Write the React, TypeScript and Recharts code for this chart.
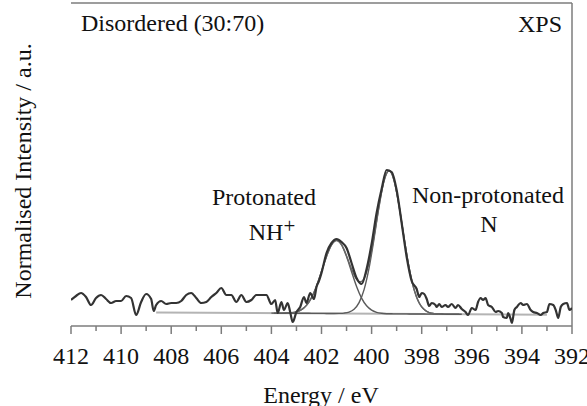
import React from "react";
import { LineChart, Line, XAxis, YAxis, ReferenceLine } from "recharts";

// x grid in eV, high binding energy on the left
const energyTicks = [412, 411, 410, 409, 408, 407, 406, 405, 404, 403, 402, 401, 400, 399, 398, 397, 396, 395, 394, 393, 392];

// measured N 1s spectrum (height above axis, a.u.)
const dataEnergy = [
  412.0, 411.8, 411.6, 411.4, 411.2, 411.0, 410.8, 410.6, 410.4, 410.2,
  410.0, 409.8, 409.6, 409.4, 409.2, 409.0, 408.8, 408.7, 408.6, 408.4,
  408.2, 408.0, 407.8, 407.6, 407.4, 407.2, 407.0, 406.8, 406.6, 406.4,
  406.2, 406.0, 405.8, 405.6, 405.4, 405.2, 405.0, 404.8, 404.6, 404.4,
  404.2, 404.0, 403.85, 403.75, 403.6, 403.5, 403.35, 403.25, 403.15, 403.0,
  402.85, 402.7, 402.6, 402.45, 402.3, 402.2, 402.1, 402.0, 401.8, 401.6,
  401.4, 401.2, 401.0, 400.8, 400.6, 400.4, 400.2, 400.0, 399.8, 399.6,
  399.4, 399.2, 399.0, 398.8, 398.6, 398.4, 398.2, 398.1, 398.0, 397.9,
  397.8, 397.7, 397.6, 397.45, 397.4, 397.3, 397.2, 397.05, 396.95, 396.8,
  396.65, 396.55, 396.4, 396.25, 396.15, 396.0, 395.85, 395.75, 395.65, 395.55,
  395.45, 395.35, 395.2, 395.05, 394.95, 394.8, 394.75, 394.6, 394.55, 394.45,
  394.4, 394.3, 394.2, 394.05, 393.95, 393.8, 393.65, 393.55, 393.4, 393.25,
  393.15, 393.0, 392.9, 392.75, 392.65, 392.55, 392.45, 392.35, 392.2, 392.1,
  392.0,
];
const dataCounts = [
  26, 30, 33, 29, 21, 28, 31, 27, 23, 25,
  25, 30, 28, 11, 24, 32, 27, 15, 21, 25,
  22, 23, 23, 25, 31, 33, 28, 23, 24, 29,
  33, 38, 31, 31, 24, 31, 24, 26, 31, 31,
  31, 22, 26, 13, 24, 16, 23, 14, 4, 14,
  19, 29, 23, 33, 27, 39, 45, 53, 73, 83,
  87, 84, 78, 63, 48, 42, 57, 82, 113, 137,
  156, 154, 136, 103, 69, 45, 37, 29, 33, 32,
  27, 20, 23, 21, 19, 22, 19, 21, 19, 22,
  18, 21, 17, 14, 11, 18, 16, 24, 28, 26,
  28, 21, 19, 14, 15, 13, 9, 8, 13, 7,
  3, 16, 19, 23, 21, 22, 16, 14, 13, 11,
  13, 14, 22, 21, 16, 8, 19, 22, 23, 16,
  18,
];

// Shirley-type background
const baseEnergy = [408.6, 393.0];
const baseCounts = [13.6, 11.2];

// protonated NH+ component (on background)
const nhEnergy = [
  404.0, 403.8, 403.6, 403.4, 403.2, 403.0, 402.8, 402.6, 402.4, 402.2,
  402.0, 401.8, 401.6, 401.4, 401.2, 401.0, 400.8, 400.6, 400.4, 400.2,
  400.0, 399.8, 399.6, 399.4, 399.2, 399.0, 398.8, 398.6, 398.4, 398.2,
  398.0, 397.8, 397.6, 397.4, 397.2, 397.0, 396.8, 396.6, 396.4,
];
const nhCounts = [
  12.9, 12.9, 12.9, 13.0, 13.3, 14.2, 16.3, 20.6, 28.2, 39.8,
  54.5, 69.6, 81.1, 85.5, 81.1, 69.4, 54.3, 39.6, 27.9, 20.2,
  15.9, 13.7, 12.7, 12.3, 12.2, 12.1, 12.1, 12.1, 12.0, 12.0,
  12.0, 11.9, 11.9, 11.9, 11.9, 11.8, 11.8, 11.8, 11.7,
];

// non-protonated N component (on background)
const nEnergy = [
  403.9, 403.7, 403.5, 403.3, 403.1, 402.9, 402.7, 402.5, 402.3, 402.1,
  401.9, 401.7, 401.5, 401.3, 401.1, 400.9, 400.7, 400.5, 400.3, 400.1,
  399.9, 399.7, 399.5, 399.3, 399.1, 398.9, 398.7, 398.5, 398.3, 398.1,
  397.9, 397.7, 397.5, 397.3, 397.1, 396.9, 396.7, 396.5,
];
const nCounts = [
  12.9, 12.8, 12.8, 12.8, 12.8, 12.7, 12.7, 12.7, 12.6, 12.6,
  12.6, 12.5, 12.5, 12.6, 12.9, 13.9, 16.8, 23.4, 36.4, 58.1,
  87.7, 119.8, 145.4, 155.2, 145.3, 119.7, 87.5, 57.9, 36.1, 23.0,
  16.4, 13.4, 12.3, 12.0, 11.9, 11.8, 11.8, 11.7,
];

// fit envelope
const envEnergy = [
  403.4, 403.3, 403.2, 403.1, 403.0, 402.9, 402.8, 402.7, 402.6, 402.5,
  402.4, 402.3, 402.2, 402.1, 402.0, 401.9, 401.8, 401.7, 401.6, 401.5,
  401.4, 401.3, 401.2, 401.1, 401.0, 400.9, 400.8, 400.7, 400.6, 400.5,
  400.4, 400.3, 400.2, 400.1, 400.0, 399.9, 399.8, 399.7, 399.6, 399.5,
  399.4, 399.3, 399.2, 399.1, 399.0, 398.9, 398.8, 398.7, 398.6, 398.5,
  398.4, 398.3, 398.2, 398.1, 398.0, 397.9, 397.8, 397.7, 397.6, 397.5,
  397.4, 397.3, 397.2,
];
const envCounts = [
  13.0, 13.1, 13.3, 13.6, 14.2, 15.0, 16.3, 18.1, 20.6, 24.0,
  28.3, 33.5, 39.8, 46.9, 54.5, 62.2, 69.6, 76.0, 81.1, 84.4,
  85.6, 84.5, 81.3, 76.4, 70.3, 63.5, 56.9, 51.1, 46.7, 44.3,
  44.5, 47.7, 54.0, 63.5, 75.7, 90.0, 105.3, 120.7, 134.5, 145.7,
  152.8, 155.3, 152.7, 145.3, 133.9, 119.7, 103.7, 87.5, 71.9, 57.9,
  45.8, 36.1, 28.6, 23.0, 19.1, 16.4, 14.5, 13.4, 12.8, 12.3,
  12.1, 12.0, 11.9,
];

const zip = (es: number[], hs: number[]) => es.map((e, i) => ({ e, h: hs[i] }));

const FRAME = "#7c7c7c";
const SERIF = "'Liberation Serif', 'Times New Roman', serif";

function EnergyTick({ x, y, payload }: any) {
  const v = payload.value as number;
  const major = v % 2 === 0;
  return (
    <g>
      <line x1={x} x2={x} y1={y} y2={y + (major ? 8 : 5)} stroke={FRAME} strokeWidth={1.5} />
      {major && (
        <text
          x={x}
          y={y + 38}
          textAnchor="middle"
          fontFamily="Liberation Serif"
          fontSize={24}
          style={{ fontFamily: SERIF, fontSize: 24 }}
          fill="#111"
        >
          {v}
        </text>
      )}
    </g>
  );
}

const textStyle: React.CSSProperties = {
  position: "absolute",
  fontFamily: SERIF,
  fontSize: 24,
  lineHeight: "24px",
  color: "#111",
  whiteSpace: "nowrap",
};

export default function App() {
  return (
    <div style={{ position: "absolute", left: 0, top: 0, width: 587, height: 406, background: "#fff" }}>
      <LineChart width={587} height={406} margin={{ top: 3, right: 15, left: 71, bottom: 20 }}>
        <XAxis
          xAxisId="b"
          dataKey="e"
          type="number"
          domain={[392, 412]}
          reversed
          allowDataOverflow
          ticks={energyTicks}
          interval={0}
          height={60}
          tickSize={0}
          tickMargin={0}
          tickLine={false}
          axisLine={{ stroke: FRAME, strokeWidth: 1.5 }}
          tick={<EnergyTick />}
        />
        <YAxis
          yAxisId="l"
          type="number"
          domain={[0, 323]}
          allowDataOverflow
          width={0}
          tick={false}
          tickLine={false}
          axisLine={{ stroke: FRAME, strokeWidth: 1.5 }}
        />
        <ReferenceLine xAxisId="b" yAxisId="l" y={323} stroke={FRAME} strokeWidth={1.5} ifOverflow="visible" />
        <ReferenceLine xAxisId="b" yAxisId="l" x={392} stroke={FRAME} strokeWidth={1.5} ifOverflow="visible" />
        <Line xAxisId="b" yAxisId="l" data={zip(baseEnergy, baseCounts)} dataKey="h" type="linear"
          stroke="#b4b4b4" strokeWidth={2} dot={false} isAnimationActive={false} />
        <Line xAxisId="b" yAxisId="l" data={zip(nhEnergy, nhCounts)} dataKey="h" type="monotone"
          stroke="#5a5a5a" strokeWidth={1.4} dot={false} isAnimationActive={false} />
        <Line xAxisId="b" yAxisId="l" data={zip(nEnergy, nCounts)} dataKey="h" type="monotone"
          stroke="#5a5a5a" strokeWidth={1.4} dot={false} isAnimationActive={false} />
        <Line xAxisId="b" yAxisId="l" data={zip(envEnergy, envCounts)} dataKey="h" type="monotone"
          stroke="#666" strokeWidth={1.4} dot={false} isAnimationActive={false} />
        <Line xAxisId="b" yAxisId="l" data={zip(dataEnergy, dataCounts)} dataKey="h" type="monotone"
          stroke="#333" strokeWidth={2.2} dot={false} isAnimationActive={false} />
      </LineChart>

      <div style={{ ...textStyle, left: 81, top: 11 }}>Disordered (30:70)</div>
      <div style={{ ...textStyle, right: 25, top: 12 }}>XPS</div>
      <div style={{ ...textStyle, left: 194, top: 185, width: 140, textAlign: "center" }}>Protonated</div>
      <div style={{ ...textStyle, left: 202, top: 214, width: 140, textAlign: "center" }}>
        NH<span style={{ fontSize: 21, verticalAlign: "7px" }}>+</span>
      </div>
      <div style={{ ...textStyle, left: 408, top: 183, width: 160, textAlign: "center" }}>Non-protonated</div>
      <div style={{ ...textStyle, left: 409, top: 212, width: 160, textAlign: "center" }}>N</div>
      <div style={{ ...textStyle, left: 221, top: 383, width: 200, textAlign: "center" }}>Energy / eV</div>
      <div
        style={{
          ...textStyle,
          left: 23,
          top: 171,
          transform: "translate(-50%, -50%) rotate(-90deg)",
        }}
      >
        Normalised Intensity / a.u.
      </div>
    </div>
  );
}
